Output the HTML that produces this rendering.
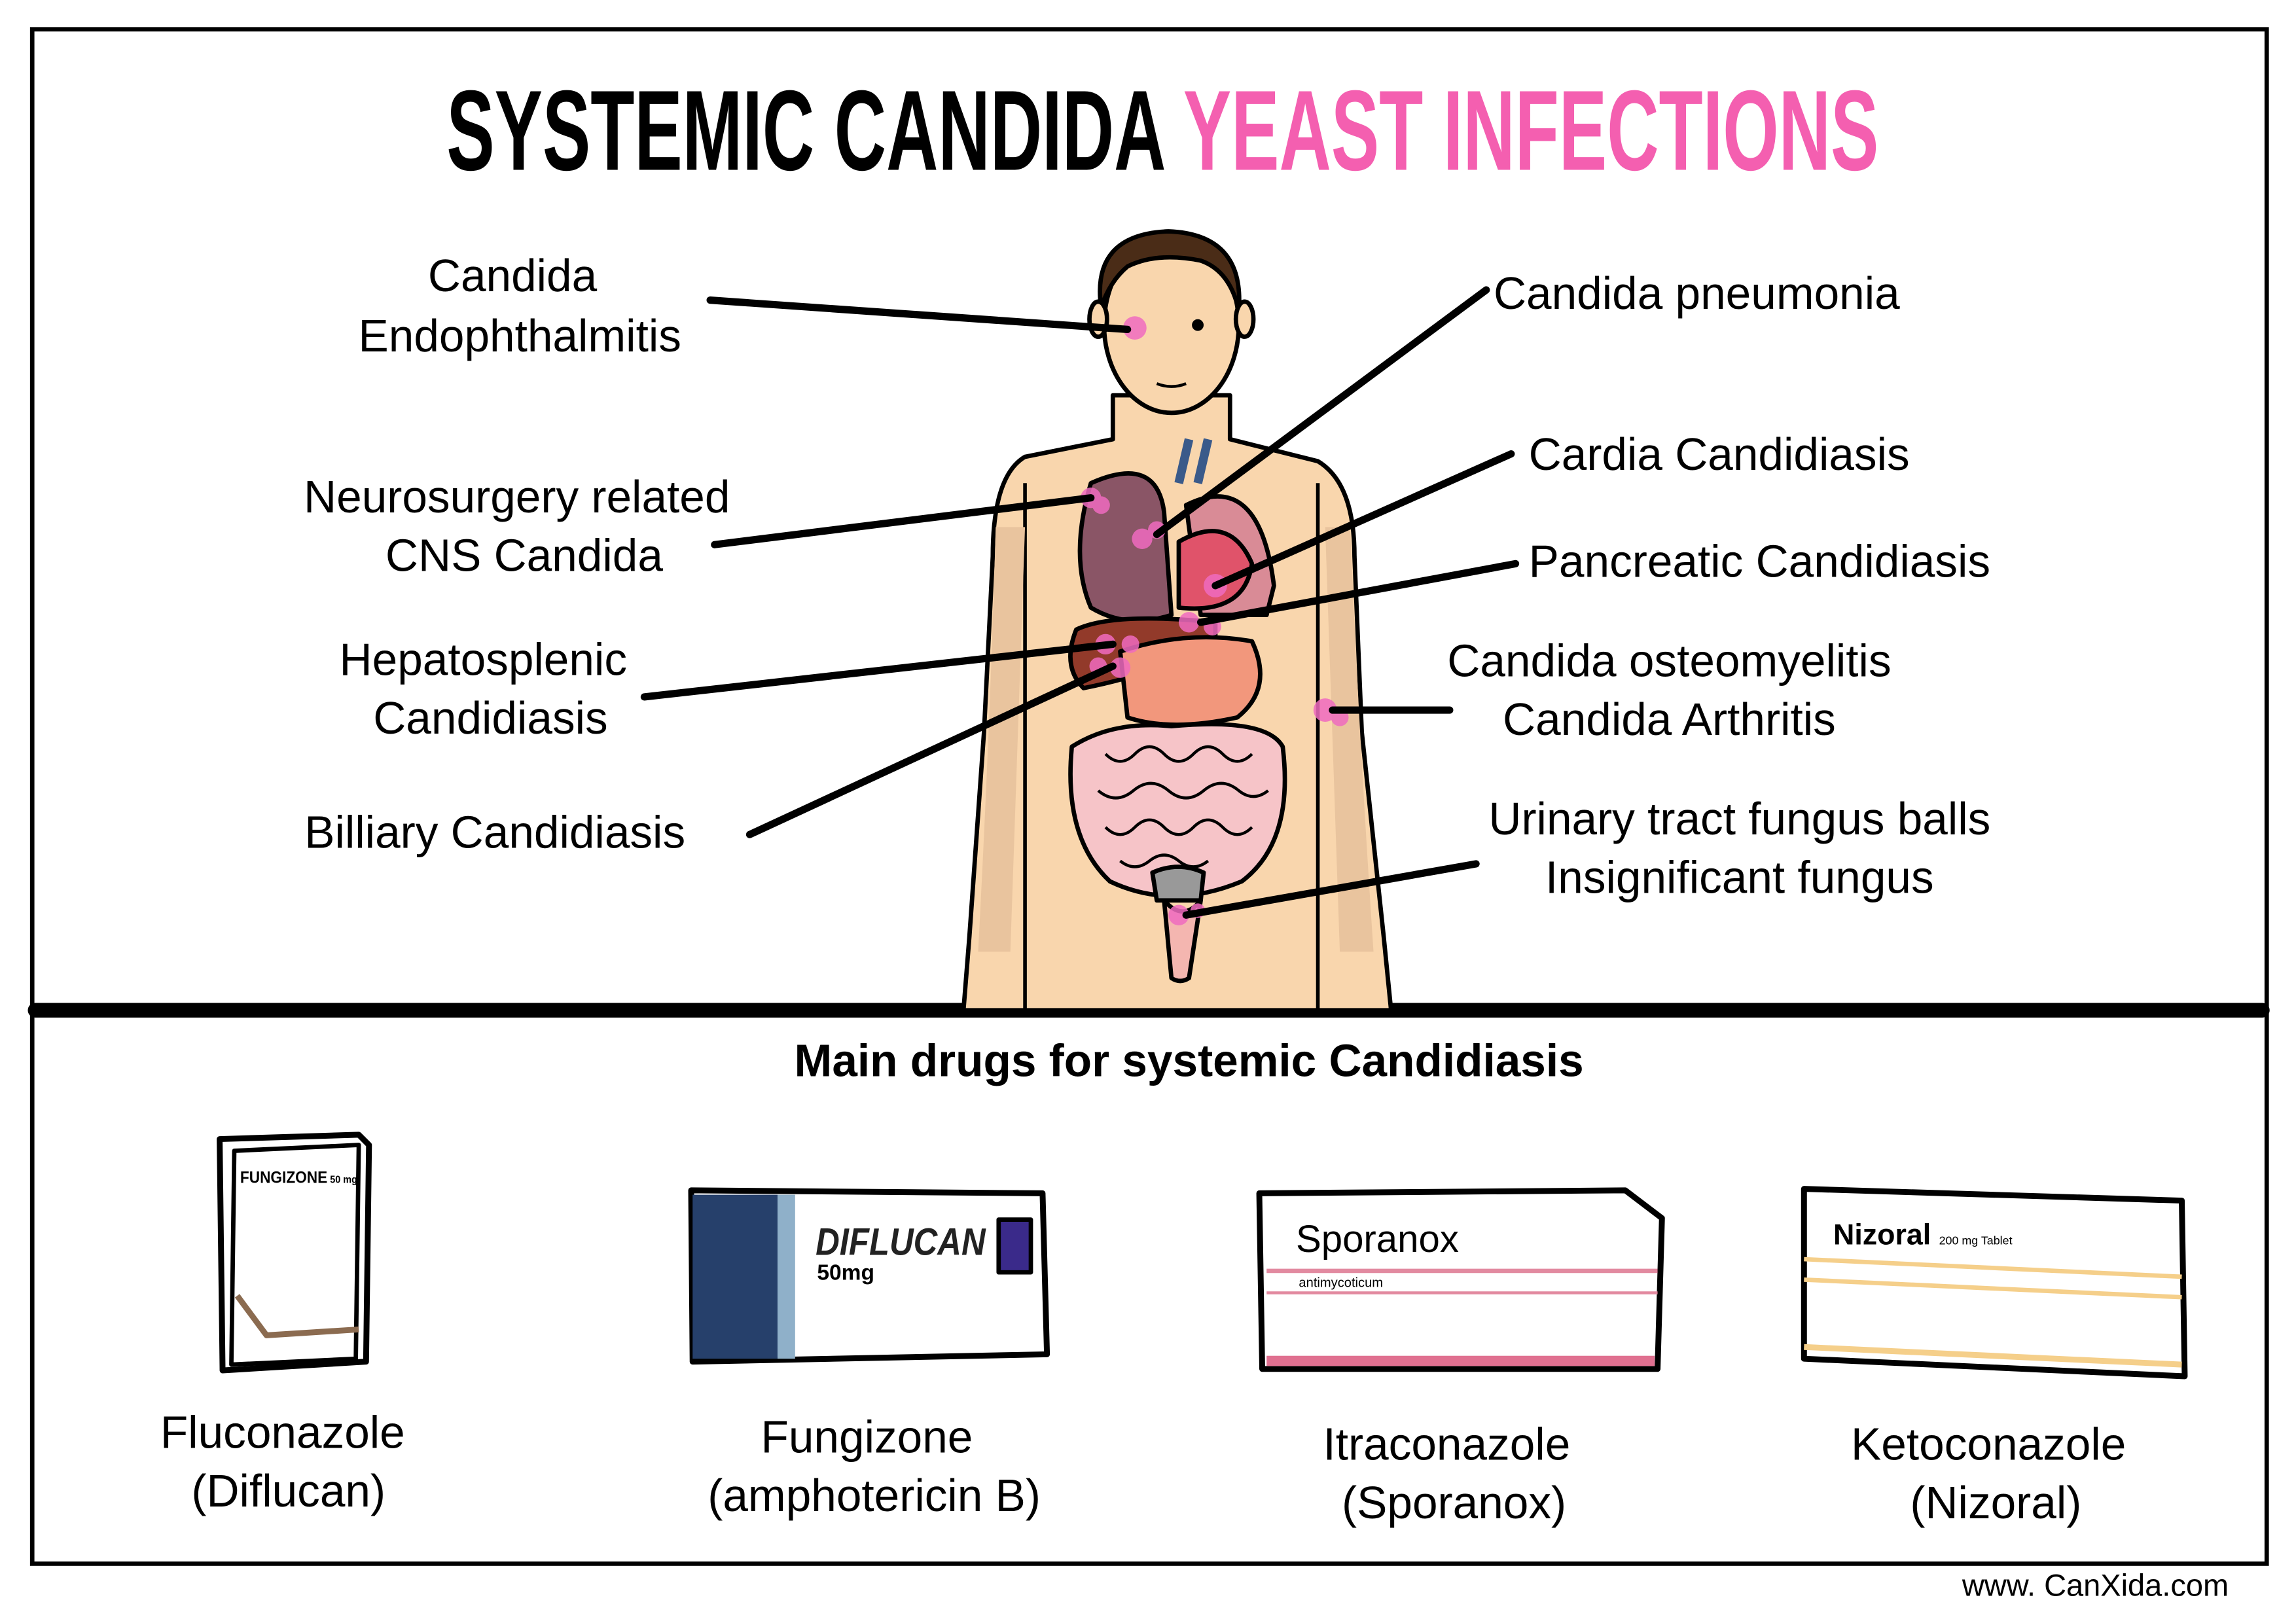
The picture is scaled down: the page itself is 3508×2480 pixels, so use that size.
<!DOCTYPE html>
<html><head><meta charset="utf-8"><style>
html,body{margin:0;padding:0;background:#fff}
svg{display:block}
text{font-family:"Liberation Sans",sans-serif}
</style></head><body>
<svg width="3508" height="2480" viewBox="0 0 1568 1108.5" preserveAspectRatio="none" xmlns="http://www.w3.org/2000/svg">
<rect x="0" y="0" width="1568" height="1108.5" fill="#fff"/>
<rect x="22" y="20" width="1526" height="1048" fill="none" stroke="#000" stroke-width="3"/>
<line x1="24" y1="690" x2="1545" y2="690" stroke="#000" stroke-width="10" stroke-linecap="round"/>
<text x="794" y="116" text-anchor="middle" font-size="78" font-weight="bold" style="font-family:'Liberation Sans Narrow','Liberation Sans',sans-serif" textLength="978" lengthAdjust="spacingAndGlyphs"><tspan fill="#000">SYSTEMIC CANDIDA </tspan><tspan fill="#f45fb0">YEAST INFECTIONS</tspan></text>

<g stroke="#000" stroke-width="3" stroke-linejoin="round">
<path d="M700 312 L760 300 L760 270 L840 270 L840 300 L900 315 Q925 330 925 380 L930 500 L945 640 L950 690 L658 690 L662 640 L672 500 L678 380 Q678 325 700 312 Z" fill="#f9d6ad"/>
<path d="M700 330 L700 690 M900 330 L900 690" fill="none" stroke-width="2.5"/>
<path d="M680 360 Q676 500 668 650 L690 650 L700 360Z M922 360 Q928 500 938 650 L915 650 L905 360Z" fill="#e9c49e" stroke="none"/>
<ellipse cx="800" cy="222" rx="46" ry="60" fill="#f9d6ad"/>
<path d="M752 210 Q745 160 798 158 Q850 160 846 212 Q840 185 820 178 Q790 172 770 182 Q758 192 752 210Z" fill="#4a2c17"/>
<ellipse cx="750" cy="218" rx="6" ry="12" fill="#f9d6ad"/>
<ellipse cx="850" cy="218" rx="6" ry="12" fill="#f9d6ad"/>
<circle cx="818" cy="222" r="4" fill="#000" stroke="none"/>
<path d="M790 262 Q800 266 810 262" fill="none" stroke-width="2"/>
<path d="M745 330 Q790 310 795 350 L800 420 Q770 430 745 415 Q730 380 745 330Z" fill="#8a5566"/>
<path d="M810 345 Q860 320 870 400 L865 420 L820 420Z" fill="#d98b96"/>
<path d="M805 370 Q840 350 855 385 Q850 420 805 415Z" fill="#e0536a"/>
<path d="M805 330 L812 300 M818 330 L825 300" stroke="#3a5a8a" stroke-width="6"/>
<path d="M735 430 Q760 418 830 425 L830 440 Q790 460 740 470 Q725 455 735 430Z" fill="#923a2a"/>
<path d="M765 445 Q810 430 855 438 Q870 470 845 490 Q800 500 770 490Z" fill="#f2977c"/>
<path d="M732 510 Q760 492 800 496 Q865 490 876 510 Q884 575 848 602 Q800 622 758 602 Q726 572 732 510Z" fill="#f6c4c8"/>
<path d="M755 515 q10 10 20 0 q10 -10 20 0 q10 10 20 0 q10 -10 20 0 q10 10 20 0 M750 540 q12 10 24 0 q12 -10 24 0 q12 10 24 0 q12 -10 24 0 q10 8 20 0 M755 565 q10 10 20 0 q10 -10 20 0 q10 10 20 0 q10 -10 20 0 q10 10 20 0 M765 588 q10 8 20 0 q10 -8 20 0 q10 8 20 0" fill="none" stroke-width="2"/>
<path d="M787 596 Q805 588 822 596 L820 615 L790 615Z" fill="#999"/>
<path d="M795 615 Q808 630 820 615 L812 668 Q806 672 800 668Z" fill="#f4b6b0"/>
</g>
<g fill="#f06bc0" opacity="0.85">
<circle cx="775" cy="224" r="8"/><circle cx="745" cy="340" r="7"/><circle cx="752" cy="345" r="6"/>
<circle cx="780" cy="368" r="7"/><circle cx="790" cy="362" r="6"/><circle cx="830" cy="400" r="8"/>
<circle cx="812" cy="425" r="7"/><circle cx="828" cy="428" r="6"/><circle cx="755" cy="440" r="7"/>
<circle cx="772" cy="440" r="6"/><circle cx="765" cy="456" r="7"/><circle cx="750" cy="455" r="6"/>
<circle cx="905" cy="485" r="8"/><circle cx="915" cy="490" r="6"/><circle cx="805" cy="625" r="7"/><circle cx="818" cy="622" r="5"/>
</g>
<g stroke="#000" stroke-width="5" stroke-linecap="round" fill="none">
<line x1="485" y1="205" x2="770" y2="225"/>
<line x1="488" y1="372" x2="745" y2="340"/>
<line x1="440" y1="476" x2="760" y2="440"/>
<line x1="512" y1="570" x2="760" y2="455"/>
<line x1="1015" y1="198" x2="790" y2="365"/>
<line x1="1032" y1="310" x2="830" y2="400"/>
<line x1="1035" y1="385" x2="820" y2="425"/>
<line x1="990" y1="485" x2="910" y2="485"/>
<line x1="1008" y1="590" x2="810" y2="625"/>
</g>
<g font-size="31" fill="#000">
<text x="350" y="199" text-anchor="middle">Candida</text>
<text x="355" y="240" text-anchor="middle">Endophthalmitis</text>
<text x="353" y="350" text-anchor="middle">Neurosurgery related</text>
<text x="358" y="390" text-anchor="middle">CNS Candida</text>
<text x="330" y="461" text-anchor="middle">Hepatosplenic</text>
<text x="335" y="501" text-anchor="middle">Candidiasis</text>
<text x="338" y="579" text-anchor="middle">Billiary Candidiasis</text>
<text x="1020" y="211">Candida pneumonia</text>
<text x="1044" y="321">Cardia Candidiasis</text>
<text x="1044" y="394">Pancreatic Candidiasis</text>
<text x="1140" y="462" text-anchor="middle">Candida osteomyelitis</text>
<text x="1140" y="502" text-anchor="middle">Candida Arthritis</text>
<text x="1188" y="570" text-anchor="middle">Urinary tract fungus balls</text>
<text x="1188" y="610" text-anchor="middle">Insignificant fungus</text>
<text x="812" y="735" text-anchor="middle" font-weight="bold">Main drugs for systemic Candidiasis</text>
<text x="193" y="989" text-anchor="middle">Fluconazole</text>
<text x="197" y="1029" text-anchor="middle">(Diflucan)</text>
<text x="592" y="992" text-anchor="middle">Fungizone</text>
<text x="597" y="1032" text-anchor="middle">(amphotericin B)</text>
<text x="988" y="997" text-anchor="middle">Itraconazole</text>
<text x="993" y="1037" text-anchor="middle">(Sporanox)</text>
<text x="1358" y="997" text-anchor="middle">Ketoconazole</text>
<text x="1363" y="1037" text-anchor="middle">(Nizoral)</text>
</g>
<text x="1522" y="1090" text-anchor="end" font-size="21">www. CanXida.com</text>

<g stroke="#000" stroke-width="4" stroke-linejoin="round">
<path d="M150 778 L245 775 L252 782 L250 930 L152 936Z" fill="#fff"/>
<path d="M160 786 L245 782 L243 928 L158 932Z" fill="#fff" stroke-width="3"/>
<path d="M162 885 L182 912 L245 908" fill="none" stroke="#8b6b50" stroke-width="4"/>
<path d="M472 813 L712 815 L715 925 L473 930Z" fill="#fff"/>
<rect x="473" y="816" width="58" height="112" fill="#26406b" stroke="none"/>
<rect x="531" y="816" width="12" height="112" fill="#8fb0c9" stroke="none"/>
<rect x="682" y="833" width="22" height="36" fill="#3a2a8a" stroke-width="3"/>
<path d="M860 815 L1110 813 L1135 832 L1132 935 L862 935Z" fill="#fff"/>
<line x1="865" y1="868" x2="1132" y2="868" stroke="#e28aa0" stroke-width="3"/>
<line x1="865" y1="883" x2="1132" y2="883" stroke="#e28aa0" stroke-width="2"/>
<rect x="865" y="926" width="265" height="7" fill="#e07090" stroke="none"/>
<path d="M1232 812 L1490 820 L1492 940 L1232 928Z" fill="#fff"/>
<line x1="1232" y1="860" x2="1490" y2="872" stroke="#f5cf8a" stroke-width="3"/>
<line x1="1232" y1="874" x2="1490" y2="886" stroke="#f5cf8a" stroke-width="3"/>
<line x1="1232" y1="920" x2="1490" y2="932" stroke="#f5cf8a" stroke-width="4"/>
</g>
<text x="164" y="808" font-size="11" font-weight="bold" textLength="80" lengthAdjust="spacingAndGlyphs">FUNGIZONE<tspan font-size="7"> 50 mg</tspan></text>
<text x="557" y="857" font-size="26" font-weight="bold" font-style="italic" fill="#222" textLength="116" lengthAdjust="spacingAndGlyphs">DIFLUCAN</text>
<text x="558" y="874" font-size="15" font-weight="bold">50mg</text>
<text x="885" y="855" font-size="26">Sporanox</text>
<text x="887" y="879" font-size="9">antimycoticum</text>
<text x="1252" y="850" font-size="20" font-weight="bold">Nizoral <tspan font-size="8" font-weight="normal">200 mg Tablet</tspan></text>
</svg>
</body></html>
